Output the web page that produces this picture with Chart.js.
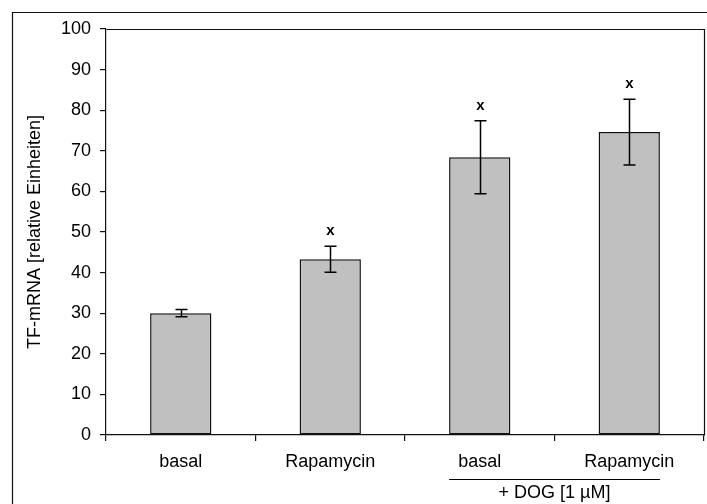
<!DOCTYPE html>
<html>
<head>
<meta charset="utf-8">
<script src="https://cdn.jsdelivr.net/npm/chart.js@4.4.1/dist/chart.umd.min.js"></script>
<style>
  html, body { margin: 0; padding: 0; background: #fff; }
  #wrap { width: 707px; height: 504px; }
</style>
</head>
<body>
<div id="wrap"><canvas id="chart" width="707" height="504"></canvas></div>
<script>
const categories = ['basal', 'Rapamycin', 'basal', 'Rapamycin'];
const means = [30.0, 43.3, 68.4, 74.6];
const errors = [0.9, 3.2, 9.0, 8.1];
const significant = [false, true, true, true];
const groupLabel = '+ DOG [1 µM]';
const groupStart = 2;
const groupEnd = 3;
const yTicks = [0, 10, 20, 30, 40, 50, 60, 70, 80, 90, 100];

const FONT = 'Liberation Sans, Arial, sans-serif';
const SIZE = 18;

// frame round the whole figure and box round the plot area
const framePlugin = {
  id: 'frame',
  afterDraw(chart) {
    const { ctx, chartArea } = chart;
    ctx.save();
    ctx.strokeStyle = '#111';
    ctx.lineWidth = 1.2;
    ctx.beginPath();
    ctx.moveTo(12.5, chart.height);
    ctx.lineTo(12.5, 12.5);
    ctx.lineTo(chart.width, 12.5);
    ctx.stroke();
    ctx.beginPath();
    ctx.moveTo(Math.round(chartArea.left) + 0.5, Math.round(chartArea.top) + 0.5);
    ctx.lineTo(Math.round(chartArea.right) + 0.5, Math.round(chartArea.top) + 0.5);
    ctx.lineTo(Math.round(chartArea.right) + 0.5, Math.round(chartArea.bottom) + 0.5);
    ctx.stroke();
    ctx.restore();
  }
};

// error bars, significance marks and the group bracket under the axis
const annotationPlugin = {
  id: 'annotations',
  afterDatasetsDraw(chart) {
    const { ctx, scales } = chart;
    const meta = chart.getDatasetMeta(0);
    const y = scales.y;
    ctx.save();
    ctx.strokeStyle = '#000';
    ctx.lineWidth = 1.5;
    meta.data.forEach((bar, i) => {
      const cx = Math.round(bar.x) + 0.5;
      const top = y.getPixelForValue(means[i] + errors[i]);
      const bottom = y.getPixelForValue(means[i] - errors[i]);
      ctx.beginPath();
      ctx.moveTo(cx, top);
      ctx.lineTo(cx, bottom);
      ctx.moveTo(cx - 6, top);
      ctx.lineTo(cx + 6, top);
      ctx.moveTo(cx - 6, bottom);
      ctx.lineTo(cx + 6, bottom);
      ctx.stroke();
      if (significant[i]) {
        ctx.fillStyle = '#000';
        ctx.font = 'bold 15px ' + FONT;
        ctx.textAlign = 'center';
        ctx.textBaseline = 'middle';
        ctx.fillText('x', cx, top - 15);
      }
    });

    const first = meta.data[groupStart];
    const last = meta.data[groupEnd];
    const x0 = first.x - first.width / 2;
    const x1 = last.x + last.width / 2;
    ctx.lineWidth = 1.2;
    ctx.beginPath();
    ctx.moveTo(x0, 479.5);
    ctx.lineTo(x1, 479.5);
    ctx.stroke();
    ctx.fillStyle = '#000';
    ctx.font = SIZE + 'px ' + FONT;
    ctx.textAlign = 'center';
    ctx.textBaseline = 'alphabetic';
    ctx.fillText(groupLabel, (x0 + x1) / 2, 498);
    ctx.restore();
  }
};

new Chart(document.getElementById('chart'), {
  type: 'bar',
  data: {
    labels: categories,
    datasets: [{
      data: means,
      backgroundColor: '#c0c0c0',
      borderColor: '#111',
      borderWidth: 1.5,
      borderSkipped: false,
      barPercentage: 0.41,
      categoryPercentage: 1.0
    }]
  },
  options: {
    responsive: false,
    animation: false,
    layout: { padding: { top: 29, right: 3, left: 0, bottom: 0 } },
    plugins: {
      legend: { display: false },
      tooltip: { enabled: false }
    },
    scales: {
      x: {
        afterFit(scale) { scale.height = 69; },
        grid: {
          offset: true,
          drawOnChartArea: false,
          drawTicks: true,
          tickLength: 6,
          tickColor: '#111',
          lineWidth: 1.2
        },
        border: { color: '#111', width: 1.2 },
        ticks: {
          color: '#000',
          padding: 10,
          maxRotation: 0,
          font: { family: FONT, size: SIZE }
        }
      },
      y: {
        min: 0,
        max: 100,
        afterFit(scale) { scale.width = 106; },
        afterBuildTicks(scale) {
          scale.ticks = yTicks.map(v => ({ value: v }));
        },
        grid: {
          drawOnChartArea: false,
          drawTicks: true,
          tickLength: 6,
          tickColor: '#111',
          lineWidth: 1.2
        },
        border: { color: '#111', width: 1.2 },
        ticks: {
          color: '#000',
          padding: 9,
          font: { family: FONT, size: SIZE }
        },
        title: {
          display: true,
          text: 'TF-mRNA [relative Einheiten]',
          color: '#000',
          padding: { top: 24, bottom: 0 },
          font: { family: FONT, size: SIZE }
        }
      }
    }
  },
  plugins: [framePlugin, annotationPlugin]
});
</script>
</body>
</html>
